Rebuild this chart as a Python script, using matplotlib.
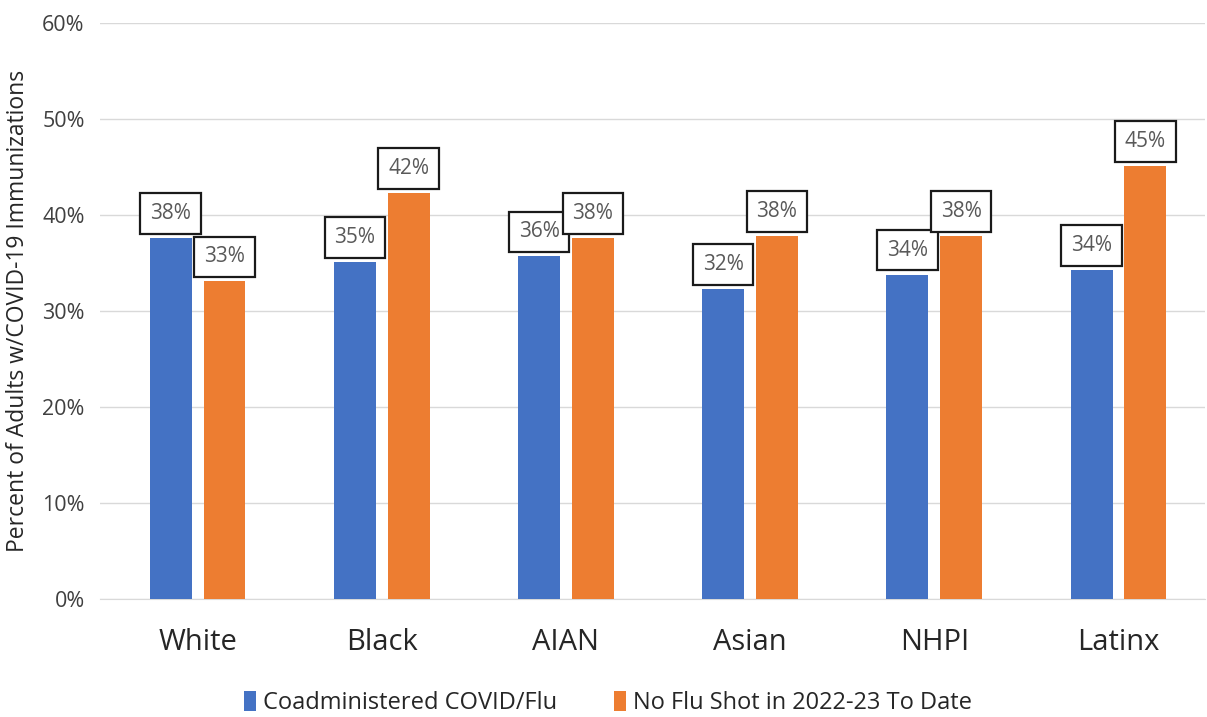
import matplotlib
matplotlib.use("Agg")
import matplotlib.pyplot as plt
import numpy as np
from matplotlib.ticker import PercentFormatter

categories = ["White", "Black", "AIAN", "Asian", "NHPI", "Latinx"]
coadmin = [37.6, 35.1, 35.7, 32.3, 33.8, 34.3]
noflu = [33.1, 42.3, 37.6, 37.8, 37.8, 45.1]
coadmin_labels = ["38%", "35%", "36%", "32%", "34%", "34%"]
noflu_labels = ["33%", "42%", "38%", "38%", "38%", "45%"]
series_names = ["Coadministered COVID/Flu", "No Flu Shot in 2022-23 To Date"]

plt.rcParams['font.family'] = ['Open Sans', 'DejaVu Sans']
gray = '#595959'
dark = '#262626'

fig = plt.figure(figsize=(12.07, 7.17), dpi=100)
ax = fig.add_axes([100/1207, 1-599/717, 1105/1207, 576/717])

x = np.arange(len(categories))
w = 0.228
off = 0.146
b1 = ax.bar(x - off, coadmin, w, color='#4472C4', label=series_names[0], zorder=3)
b2 = ax.bar(x + off, noflu, w, color='#ED7D31', label=series_names[1], zorder=3)

for bars, labs in ((b1, coadmin_labels), (b2, noflu_labels)):
    for rect, lab in zip(bars, labs):
        ax.annotate(lab, (rect.get_x() + rect.get_width()/2, rect.get_height()),
                    xytext=(0, 10), textcoords='offset points', ha='center', va='bottom',
                    fontsize=15, color=gray, zorder=5,
                    bbox=dict(boxstyle='square,pad=0.47', fc='white', ec='#1a1a1a', lw=1.6))

ax.set_xlim(-0.53, len(categories) - 0.53)
ax.set_ylim(0, 60)
ax.set_yticks(np.arange(0, 61, 10))
ax.yaxis.set_major_formatter(PercentFormatter(decimals=0))
ax.grid(axis='y', color='#d9d9d9', lw=1, zorder=0)
for s in ['top', 'right', 'left']:
    ax.spines[s].set_visible(False)
ax.spines['bottom'].set_color('#d9d9d9')
ax.tick_params(axis='y', length=0, labelsize=15.5, labelcolor='#404040', pad=11)
ax.tick_params(axis='x', length=0, labelsize=21, labelcolor=dark, pad=21)
ax.set_xticks(x)
ax.set_xticklabels(categories)
ax.set_ylabel("Percent of Adults w/COVID-19 Immunizations", fontsize=16.5, color=dark)
ax.yaxis.set_label_coords(-70/1105, 0.5)

leg = ax.legend(loc='center', bbox_to_anchor=(508/1105, -104/576), ncol=2, frameon=False,
                fontsize=17, handlelength=0.5, handleheight=0.9, handletextpad=0.3,
                columnspacing=2.4)
for t in leg.get_texts():
    t.set_color(dark)

fig.savefig("out.png", dpi=100)
